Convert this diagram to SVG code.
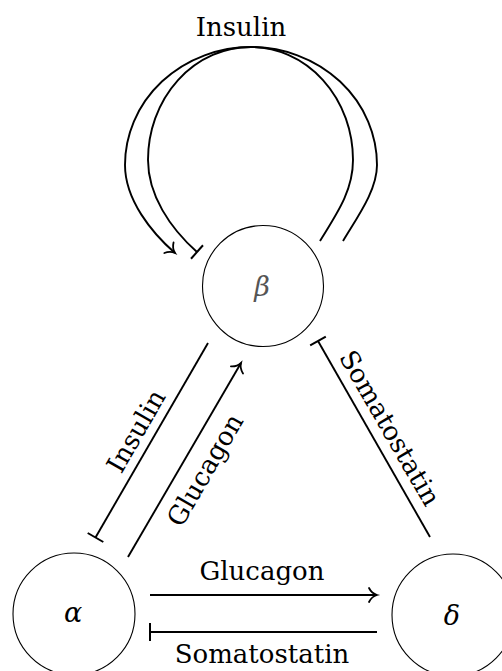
<svg xmlns="http://www.w3.org/2000/svg" width="502" height="671" viewBox="0 0 502 671">
  <defs>
    <!-- open curved arrow tip -->
    <marker id="tip" markerUnits="userSpaceOnUse" markerWidth="20" markerHeight="20" viewBox="-10 -10 20 20" refX="0" refY="0" orient="auto" overflow="visible">
      <path d="M-8,-7 C-6,-3 -2,-0.6 0,0 C-2,0.6 -6,3 -8,7" fill="none" stroke="#000" stroke-width="1.8" stroke-linecap="round"/>
    </marker>
    <!-- inhibition bar tip -->
    <marker id="bar" markerUnits="userSpaceOnUse" markerWidth="20" markerHeight="20" viewBox="-10 -10 20 20" refX="0" refY="0" orient="auto" overflow="visible">
      <path d="M0,-9 L0,9" fill="none" stroke="#000" stroke-width="2"/>
    </marker>
  </defs>
  <style>
    text { font-family: "DejaVu Serif", "Liberation Serif", serif; }
    .cell { fill: #fff; stroke: #000; stroke-width: 1.1; }
    .greek { font-style: italic; font-size: 27px; text-anchor: middle; fill: #000; }
    .edge { fill: none; stroke: #000; stroke-width: 1.9; }
    .lbl { font-size: 26px; text-anchor: middle; fill: #000; }
    .act { marker-end: url(#tip); }
    .inh { marker-end: url(#bar); }
  </style>

  <rect width="502" height="671" fill="#fff"/>

  <g id="connectors">
    <!-- beta autocrine loops -->
    <path class="edge act" d="M343,241 C358,216 377,190 377,165 A126,118 0 0 0 125,165 C125,200 152,233 175,253"/>
    <path class="edge inh" d="M320,241 C338,212 353,190 353,160 A102.5,113 0 0 0 148,160 C148,195 170,228 197,252"/>
    <!-- beta -> alpha (insulin) -->
    <line class="edge inh" x1="208" y1="343" x2="95.5" y2="537.5"/>
    <!-- alpha -> beta (glucagon) -->
    <line class="edge act" x1="128" y1="557" x2="241" y2="363"/>
    <!-- delta -> beta (somatostatin) -->
    <line class="edge inh" x1="430" y1="537" x2="318" y2="341"/>
    <!-- alpha -> delta (glucagon) -->
    <line class="edge act" x1="150" y1="595" x2="377" y2="595"/>
    <!-- delta -> alpha (somatostatin) -->
    <line class="edge inh" x1="377" y1="632" x2="150" y2="632"/>

    <text class="lbl" x="241" y="36">Insulin</text>
    <text class="lbl" transform="translate(136,431) rotate(-60)" x="0" y="9">Insulin</text>
    <text class="lbl" transform="translate(205,470) rotate(-60)" x="0" y="9">Glucagon</text>
    <text class="lbl" transform="translate(390,428) rotate(60)" x="0" y="9">Somatostatin</text>
    <text class="lbl" x="262" y="580">Glucagon</text>
    <text class="lbl" x="262" y="663">Somatostatin</text>
  </g>

  <g id="beta">
    <circle class="cell" cx="263" cy="286" r="60.5"/>
    <text class="greek" x="262" y="296" style="fill:#555">β</text>
  </g>
  <g id="alpha">
    <circle class="cell" cx="74" cy="614" r="61"/>
    <text class="greek" x="73" y="622">α</text>
  </g>
  <g id="delta">
    <circle class="cell" cx="453" cy="615" r="61"/>
    <text class="greek" x="452" y="625">δ</text>
  </g>
</svg>
